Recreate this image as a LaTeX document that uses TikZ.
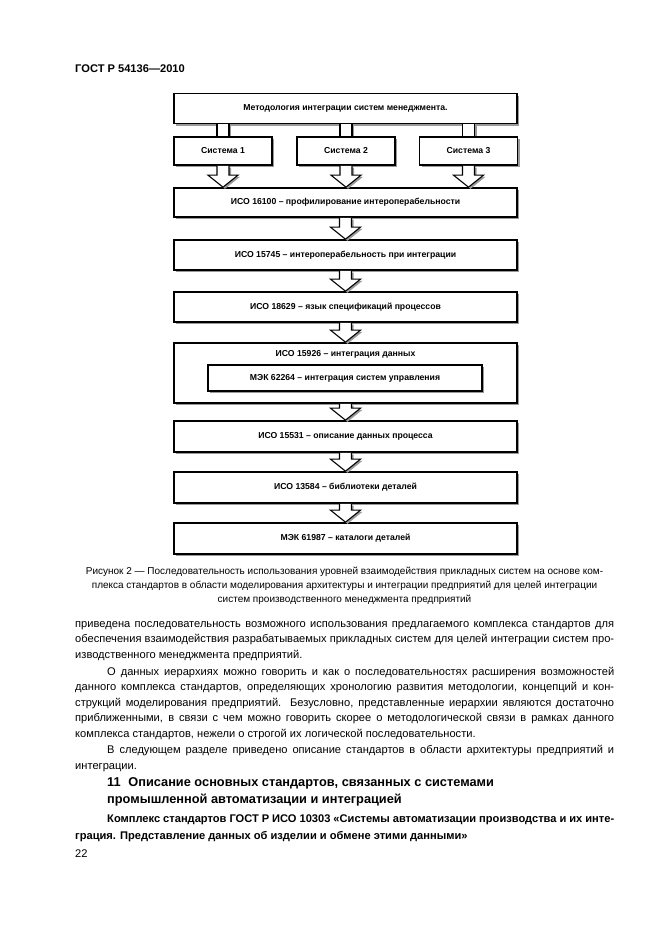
\documentclass[tikz,border=0pt]{standalone}
\usepackage{fontspec}
\setmainfont{Liberation Sans}
\usetikzlibrary{calc,shadows}

\newcommand{\bodyfont}{\fontsize{10}{12}\selectfont}
\newcommand{\capfont}{\fontsize{9}{11}\selectfont}
\newcommand{\boxfont}{\fontsize{7.8}{9}\selectfont\bfseries}
\newcommand{\fullline}[1]{\makebox[485pt][s]{#1}}
\newcommand{\indline}[1]{\makebox[456.3pt][s]{#1}}

\tikzset{
  box/.style={draw, line width=1.5pt, fill=white, inner sep=0pt, font=\boxfont,
    drop shadow={shadow xshift=1.8pt, shadow yshift=-2.2pt, fill=black!40, opacity=1}},
  wide_box/.style={box, minimum width=308.7pt, minimum height=27pt},
  sys_box/.style={box, minimum width=88.2pt, minimum height=25.2pt},
  flow/.style={draw, line width=1pt, fill=white,
    drop shadow={shadow xshift=1.8pt, shadow yshift=-1.5pt, fill=black!40, opacity=1}},
  stem_line/.style={line width=1pt},
  txt/.style={anchor=base west, inner sep=0pt, font=\bodyfont},
  caption_txt/.style={anchor=base, inner sep=0pt, font=\capfont}
}

% block arrow between two boxes
\newcommand{\flowarrow}[2]{%
  \draw[flow] ($(#1.south)+(-6,0)$) -- ($(#1.south |- #2.north)+(-6,-12)$)
    -- ($(#1.south |- #2.north)+(-15,-12)$) -- (#1.south |- #2.north)
    -- ($(#1.south |- #2.north)+(15,-12)$) -- ($(#1.south |- #2.north)+(6,-12)$)
    -- ($(#1.south)+(6,0)$);
}
% plain stem from the top box down to a system box
\newcommand{\flowstem}[2]{%
  \fill[white, drop shadow={shadow xshift=1.8pt, shadow yshift=0pt, fill=black!40, opacity=1}]
    ($(#1.south -| #2.north)+(-6,0)$) rectangle ($(#2.north)+(6,0)$);
  \draw[stem_line] ($(#1.south -| #2.north)+(-6,0)$) -- ($(#2.north)+(-6,0)$)
    ($(#1.south -| #2.north)+(6,0)$) -- ($(#2.north)+(6,0)$);
}

\begin{document}
\begin{tikzpicture}[x=0.9pt, y=-0.9pt]
    \useasboundingbox (0,0) rectangle (661,936);

    \node[txt, font=\fontsize{10}{12}\selectfont\bfseries] (header) at (75,72) {ГОСТ Р 54136—2010};

    % diagram
    \node[wide_box] (meth) at (345.5,108.5) {Методология интеграции систем менеджмента.};
    \node[sys_box] (sys1) at (223,151) {Система 1};
    \node[sys_box] (sys2) at (346,151) {Система 2};
    \node[sys_box] (sys3) at (468.5,151) {Система 3};
    \node[wide_box, minimum height=26.1pt] (iso16100) at (345.5,202.5) {ИСО 16100 – профилирование интероперабельности};
    \node[wide_box] (iso15745) at (345.5,255) {ИСО 15745 – интероперабельность при интеграции};
    \node[wide_box] (iso18629) at (345.5,307) {ИСО 18629 – язык спецификаций процессов};
    \node[wide_box, minimum height=54pt] (iso15926) at (345.5,373) {};
    \node[inner sep=0pt, font=\boxfont] (iso15926t) at (345.5,354) {ИСО 15926 – интеграция данных};
    \node[box, minimum width=246.6pt, minimum height=23.4pt] (mek62264) at (345,378) {МЭК 62264 – интеграция систем управления};
    \node[wide_box, minimum height=27.9pt] (iso15531) at (345.5,436.5) {ИСО 15531 – описание данных процесса};
    \node[wide_box, minimum height=27.9pt] (iso13584) at (345.5,487.5) {ИСО 13584 – библиотеки деталей};
    \node[wide_box, minimum height=27.9pt] (mek61987) at (345.5,538.5) {МЭК 61987 – каталоги деталей};

    \flowstem{meth}{sys1}
    \flowstem{meth}{sys2}
    \flowstem{meth}{sys3}
    \flowarrow{sys1}{iso16100}
    \flowarrow{sys2}{iso16100}
    \flowarrow{sys3}{iso16100}
    \flowarrow{iso16100}{iso15745}
    \flowarrow{iso15745}{iso18629}
    \flowarrow{iso18629}{iso15926}
    \flowarrow{iso15926}{iso15531}
    \flowarrow{iso15531}{iso13584}
    \flowarrow{iso13584}{mek61987}

    % caption
    \node[caption_txt] (cap1) at (344.5,574) {Рисунок 2 — Последовательность использования уровней взаимодействия прикладных систем на основе ком-};
    \node[caption_txt] (cap2) at (344.5,588) {плекса стандартов в области моделирования архитектуры и интеграции предприятий для целей интеграции};
    \node[caption_txt] (cap3) at (344.5,602) {систем производственного менеджмента предприятий};

    % body text
    \node[txt] (p1) at (75,627) {\fullline{приведена последовательность возможного использования предлагаемого комплекса стандартов для}};
    \node[txt] (p2) at (75,642.5) {\fullline{обеспечения взаимодействия разрабатываемых прикладных систем для целей интеграции систем про-}};
    \node[txt] (p3) at (75,658) {изводственного менеджмента предприятий.};
    \node[txt] (p4) at (107,675) {\indline{О данных иерархиях можно говорить и как о последовательностях расширения возможностей}};
    \node[txt] (p5) at (75,690.5) {\fullline{данного комплекса стандартов, определяющих хронологию развития методологии, концепций и кон-}};
    \node[txt] (p6) at (75,706) {\fullline{струкций моделирования предприятий. Безусловно, представленные иерархии являются достаточно}};
    \node[txt] (p7) at (75,721.5) {\fullline{приближенными, в связи с чем можно говорить скорее о методологической связи в рамках данного}};
    \node[txt] (p8) at (75,737) {комплекса стандартов, нежели о строгой их логической последовательности.};
    \node[txt] (p9) at (107,753.5) {\indline{В следующем разделе приведено описание стандартов в области архитектуры предприятий и}};
    \node[txt] (p10) at (75,769) {интеграции.};

    % section heading
    \node[txt, font=\fontsize{11.5}{14}\selectfont\bfseries] (sec1) at (107,786) {11\hspace{0.6em}Описание основных стандартов, связанных с системами};
    \node[txt, font=\fontsize{11.5}{14}\selectfont\bfseries] (sec2) at (107,803) {промышленной автоматизации и интеграцией};
    \node[txt, font=\bodyfont\bfseries] (b1) at (107,822) {\indline{Комплекс стандартов ГОСТ Р ИСО 10303 «Системы автоматизации производства и их инте-}};
    \node[txt, font=\bodyfont\bfseries] (b2) at (75,839) {грация. Представление данных об изделии и обмене этими данными»};
    \node[txt] (pageno) at (75,857) {22};
\end{tikzpicture}
\end{document}
